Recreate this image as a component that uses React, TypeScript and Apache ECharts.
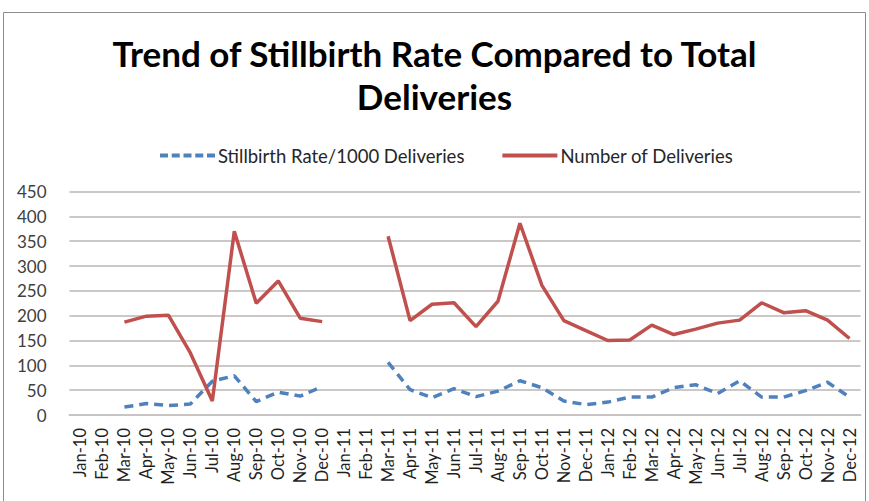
import React, { useEffect, useRef } from "react";
import * as echarts from "echarts";

const categories = [
  "Jan-10","Feb-10","Mar-10","Apr-10","May-10","Jun-10","Jul-10","Aug-10","Sep-10","Oct-10","Nov-10","Dec-10",
  "Jan-11","Feb-11","Mar-11","Apr-11","May-11","Jun-11","Jul-11","Aug-11","Sep-11","Oct-11","Nov-11","Dec-11",
  "Jan-12","Feb-12","Mar-12","Apr-12","May-12","Jun-12","Jul-12","Aug-12","Sep-12","Oct-12","Nov-12","Dec-12",
];

const stillbirthRate: (number | null)[] = [
  null, null, 16, 23, 19, 22, 68, 79, 27, 46, 38, 57,
  null, null, 106, 51, 35, 53, 37, 48, 69, 55, 28, 21,
  26, 36, 36, 55, 61, 43, 69, 36, 36, 49, 66, 36,
];

const deliveries: (number | null)[] = [
  null, null, 187, 199, 201, 125, 28, 370, 225, 270, 195, 188,
  null, null, 360, 190, 223, 226, 178, 229, 386, 261, 190, 170,
  150, 151, 181, 162, 173, 185, 191, 226, 206, 210, 191, 154,
];

const yTicks = [0, 450, 50];

const dashIcon =
  "path://M0,0h8v4h-8z M11.75,0h8v4h-8z M23.5,0h8v4h-8z M35.25,0h8v4h-8z M47,0h8v4h-8z";
const solidIcon = "path://M0,0h55v4h-55z";

export default function App() {
  const ref = useRef<HTMLDivElement>(null);
  useEffect(() => {
    if (!ref.current) return;
    const chart = echarts.init(ref.current, undefined, { renderer: "svg" });
    const font = "Lato, 'Open Sans', sans-serif";
    chart.setOption({
      animation: false,
      backgroundColor: "#ffffff",
      textStyle: { fontFamily: font },
      graphic: [
        {
          type: "rect",
          shape: { x: 3.5, y: 12.5, width: 862, height: 495 },
          style: { fill: "none", stroke: "#8c8c8c", lineWidth: 1 },
          silent: true,
        },
      ],
      title: {
        text: "Trend of Stillbirth Rate Compared to Total\nDeliveries",
        left: "center",
        top: 26,
        textStyle: {
          fontFamily: font,
          fontWeight: "bold",
          fontSize: 35,
          lineHeight: 43,
          color: "#000000",
        },
      },
      legend: {
        top: 141,
        left: 155,
        itemGap: 38,
        itemWidth: 55,
        itemHeight: 4,
        textStyle: { fontFamily: font, fontSize: 18.5, color: "#262626", padding: [0, 0, 0, -2] },
        data: [
          { name: "Stillbirth Rate/1000 Deliveries", icon: dashIcon, itemStyle: { color: "#4f81bd" } },
          { name: "Number of Deliveries", icon: solidIcon, itemStyle: { color: "#c0504d" } },
        ],
      },
      grid: { left: 69.5, right: 8.5, top: 191.5, bottom: 86 },
      xAxis: {
        type: "category",
        data: categories,
        boundaryGap: true,
        axisLine: { lineStyle: { color: "#c8c4c4", width: 2 } },
        axisTick: { show: false },
        axisLabel: {
          interval: 0,
          rotate: 90,
          fontSize: 16.5,
          color: "#1f1f1f",
          fontFamily: font,
          margin: 13,
        },
      },
      yAxis: {
        type: "value",
        min: yTicks[0],
        max: yTicks[1],
        interval: yTicks[2],
        axisLine: { show: false },
        axisTick: { show: false },
        splitLine: { lineStyle: { color: "#cdc8c8", width: 2 } },
        axisLabel: { fontSize: 17, color: "#404040", fontFamily: font, margin: 23 },
      },
      series: [
        {
          name: "Stillbirth Rate/1000 Deliveries",
          type: "line",
          data: stillbirthRate,
          showSymbol: false,
          symbol: "none",
          connectNulls: false,
          lineStyle: { color: "#4f81bd", width: 3.5, type: [9, 6] },
          itemStyle: { color: "#4f81bd" },
        },
        {
          name: "Number of Deliveries",
          type: "line",
          data: deliveries,
          showSymbol: false,
          symbol: "none",
          connectNulls: false,
          lineStyle: { color: "#c0504d", width: 3.5 },
          itemStyle: { color: "#c0504d" },
        },
      ],
    });
    return () => chart.dispose();
  }, []);
  return (
    <div
      ref={ref}
      style={{ position: "absolute", left: 0, top: 0, width: 869, height: 501 }}
    />
  );
}
